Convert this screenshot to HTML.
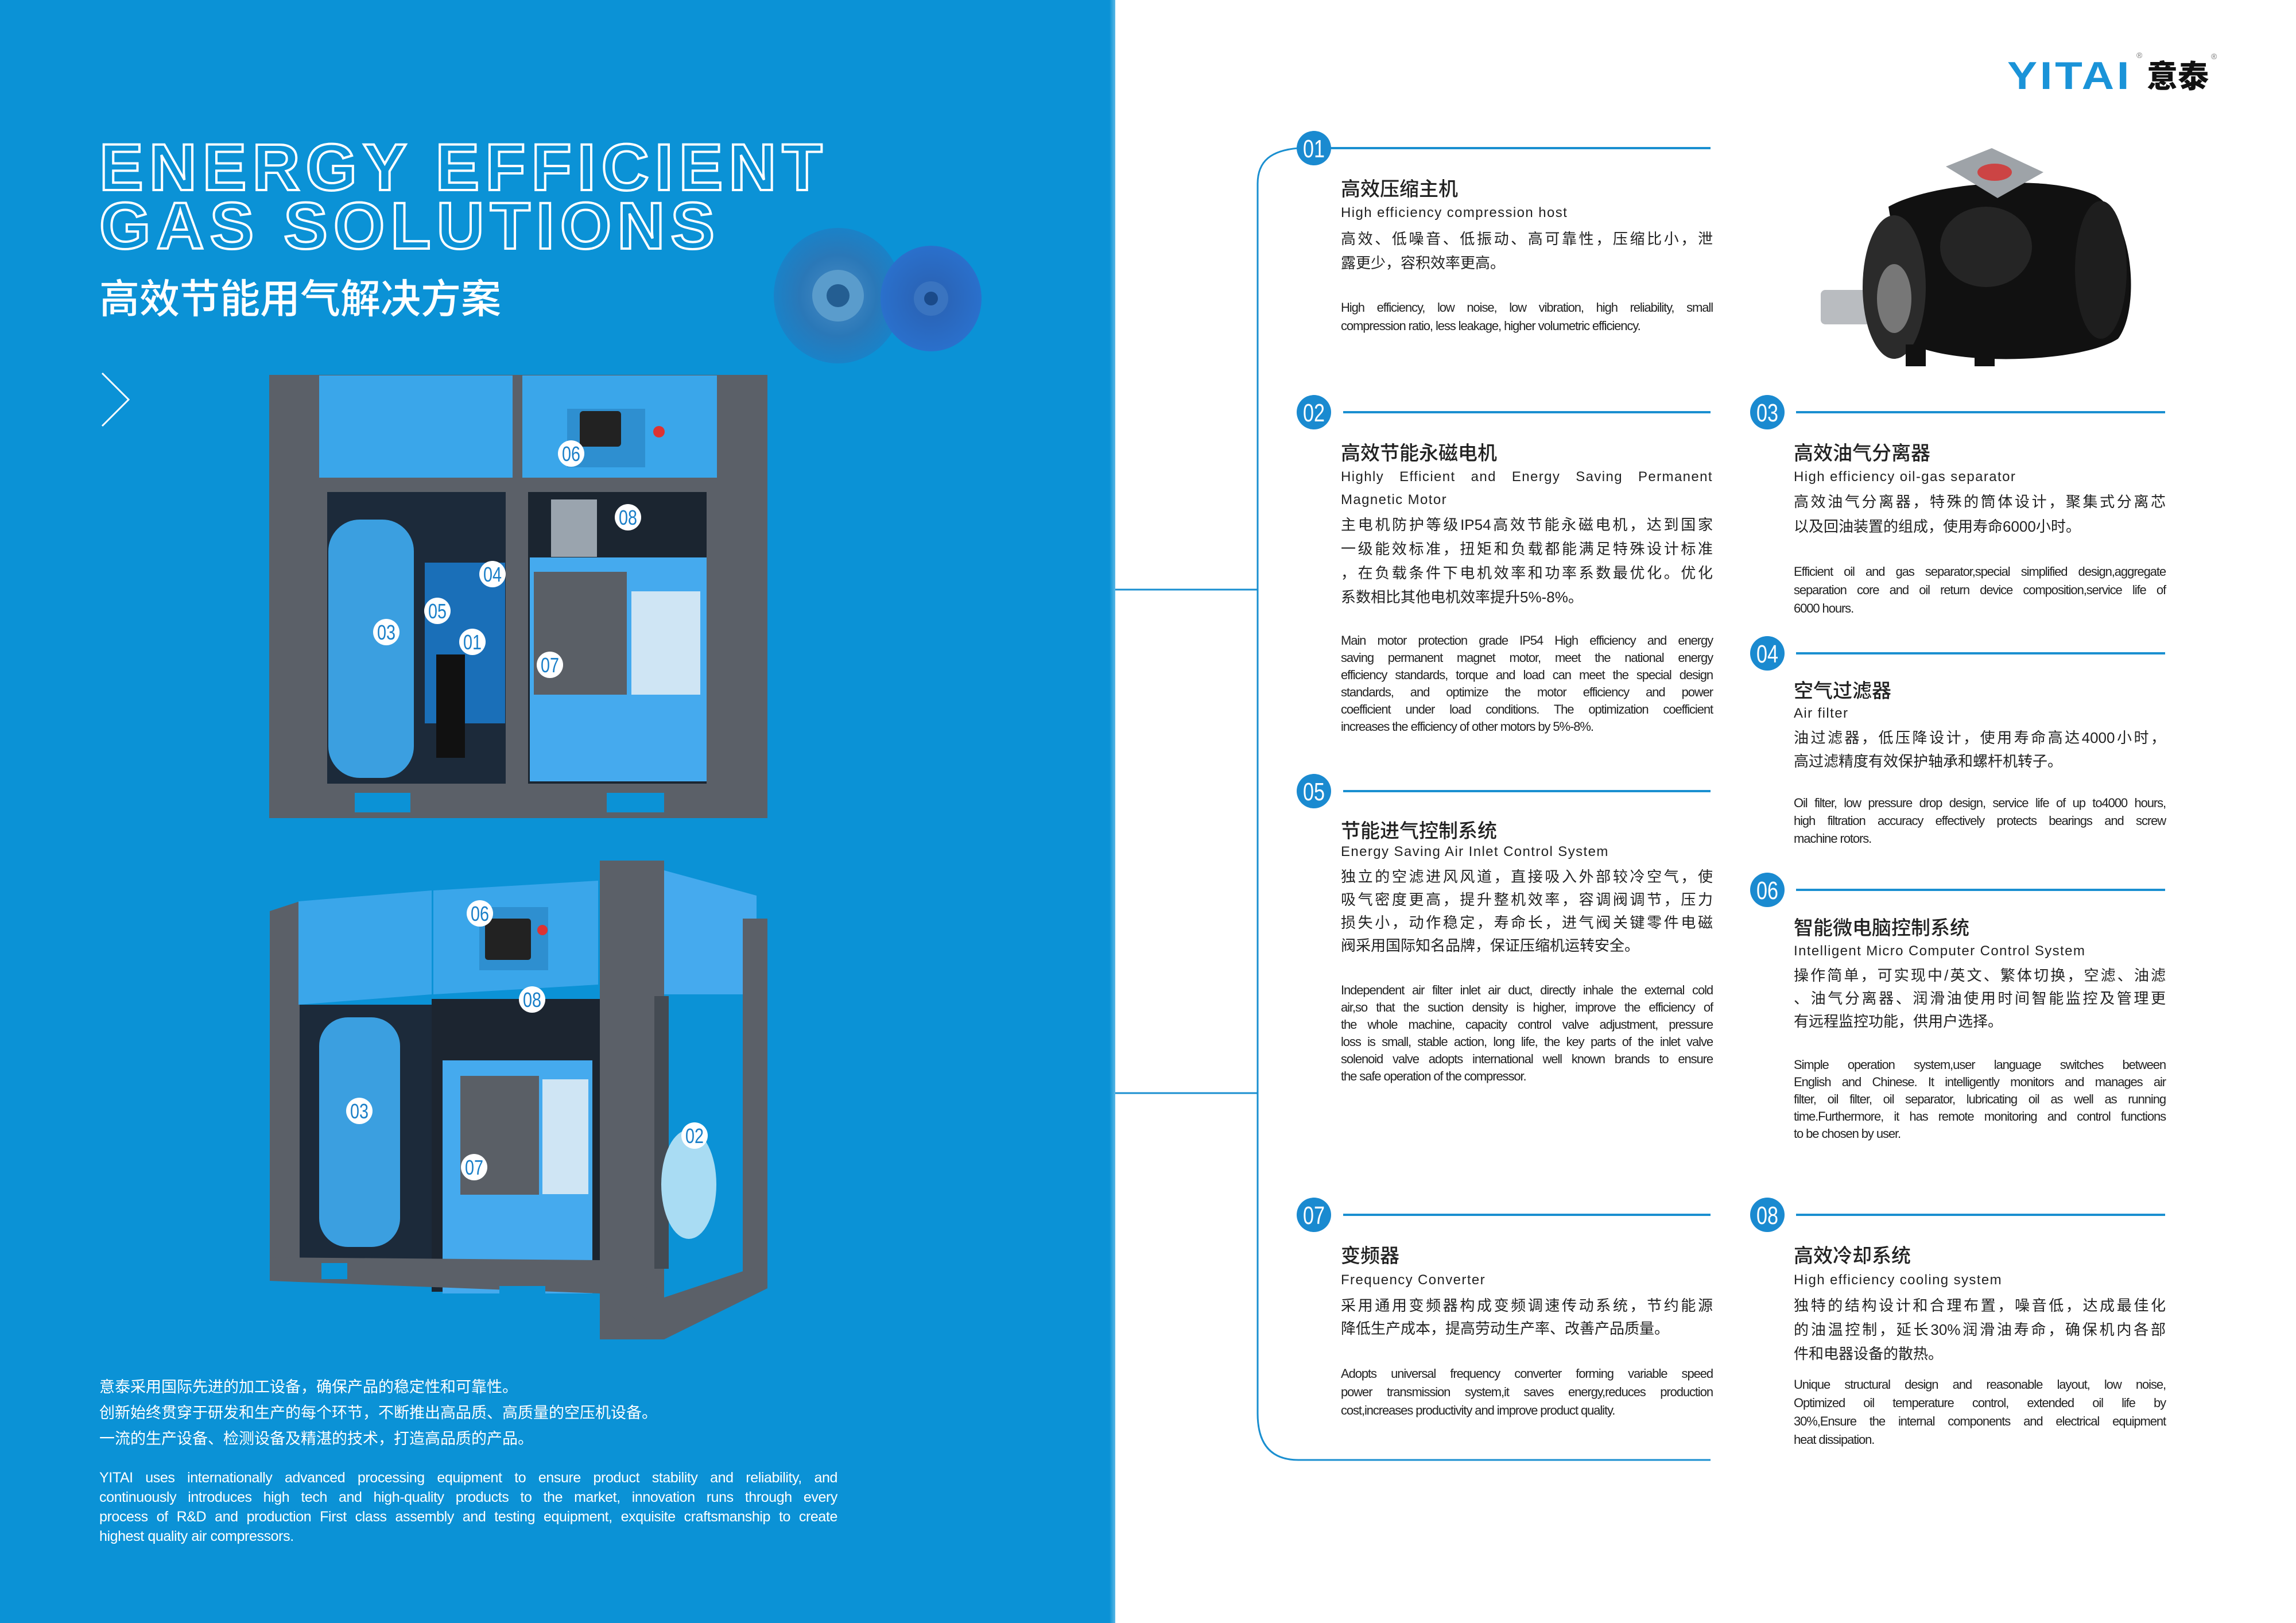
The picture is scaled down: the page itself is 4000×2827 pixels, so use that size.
<!DOCTYPE html>
<html><head><meta charset="utf-8">
<style>
*{margin:0;padding:0;box-sizing:border-box}
html,body{width:4000px;height:2827px;overflow:hidden;background:#fff}
body{position:relative;font-family:"Liberation Sans","Noto Sans CJK SC",sans-serif;color:#231f20}
.a{position:absolute}
.t1{font-family:"Liberation Sans",sans-serif;font-weight:bold;font-size:115px;line-height:115px;letter-spacing:10px;color:transparent;-webkit-text-stroke:4px #fff;white-space:nowrap}
.j>div{text-align:justify;text-align-last:justify;white-space:nowrap;overflow:visible}
.j>div.l{text-align:left;text-align-last:left}
.h{font-family:"Noto Sans CJK SC",sans-serif;font-size:34px;font-weight:500;line-height:40px;white-space:nowrap;color:#222}
.s{font-size:24px;letter-spacing:1.4px;line-height:40px;width:648px;color:#222}
.c{font-family:"Liberation Sans","Noto Sans CJK SC",sans-serif;font-size:26px;width:648px;color:#222}
.e{font-size:22px;letter-spacing:-1.1px;width:648px;color:#222}
.L{left:2336px}.R{left:3125px}
</style></head><body>

<div class="a" style="left:0;top:0;width:1943px;height:2827px;background:#0b92d6"></div>
<div class="a" style="left:1933px;top:0;width:10px;height:2827px;background:linear-gradient(90deg,#0b92d6,#5ab8e6)"></div>

<div class="a t1" style="left:173px;top:235px">ENERGY EFFICIENT</div>
<div class="a t1" style="left:173px;top:337px">GAS SOLUTIONS</div>
<div class="a" style="left:173px;top:480px;font-family:'Noto Sans CJK SC',sans-serif;font-size:70px;line-height:72px;color:#fff;font-weight:500;white-space:nowrap">高效节能用气解决方案</div>

<svg class="a" style="left:0;top:0" width="1943" height="2827" viewBox="0 0 1943 2827">
  <polyline points="178,650 224,696 178,742" fill="none" stroke="#fff" stroke-width="3"/>
  <defs>
    <radialGradient id="fg1" cx="50%" cy="50%" r="50%"><stop offset="0" stop-color="#4a8cc4"/><stop offset="0.6" stop-color="#2a78b8"/><stop offset="1" stop-color="#1a82c8"/></radialGradient>
    <radialGradient id="fg2" cx="50%" cy="50%" r="50%"><stop offset="0" stop-color="#2a60b0"/><stop offset="1" stop-color="#2a70cc"/></radialGradient>
  </defs>
  <ellipse cx="1460" cy="515" rx="112" ry="118" fill="url(#fg1)"/>
  <ellipse cx="1622" cy="520" rx="88" ry="92" fill="url(#fg2)"/>
  <circle cx="1460" cy="515" r="45" fill="#5a9ccc"/><circle cx="1460" cy="515" r="20" fill="#245e92"/>
  <circle cx="1622" cy="520" r="30" fill="#3a74c0"/><circle cx="1622" cy="520" r="12" fill="#1a4a8a"/>

  <!-- compressor 1 -->
  <rect x="469" y="653" width="868" height="772" fill="#5b6068"/>
  <rect x="556" y="654" width="337" height="178" fill="#3aa6ea"/>
  <rect x="910" y="654" width="339" height="178" fill="#3aa6ea"/>
  <rect x="988" y="712" width="136" height="102" fill="#2e8fd0"/>
  <rect x="1010" y="716" width="72" height="62" rx="6" fill="#222"/>
  <circle cx="1148" cy="752" r="10" fill="#d33"/>
  <rect x="570" y="857" width="311" height="508" fill="#1c2a3a"/>
  <rect x="920" y="857" width="311" height="508" fill="#1b2530"/>
  <rect x="740" y="980" width="140" height="280" fill="#1a6fb8"/>
  <rect x="572" y="905" width="149" height="450" rx="55" fill="#3b9fe0"/>
  <rect x="760" y="1140" width="50" height="180" fill="#111"/>
  <rect x="923" y="971" width="308" height="390" fill="#45aaee"/>
  <rect x="930" y="996" width="162" height="214" fill="#5a5f66"/>
  <rect x="1100" y="1030" width="120" height="180" fill="#cfe5f4"/>
  <rect x="960" y="870" width="80" height="100" fill="#9aa4ae"/>
  <rect x="469" y="1365" width="868" height="60" fill="#5b6068"/>
  <rect x="618" y="1381" width="97" height="34" fill="#0b92d6"/>
  <rect x="1057" y="1381" width="100" height="34" fill="#0b92d6"/>

  <!-- compressor 2 -->
  <polygon points="470,1587 522,1570 522,2231 470,2231" fill="#5b6068"/>
  <polygon points="520,1570 752,1551 752,1732 520,1750" fill="#3aa6ea"/>
  <polygon points="755,1551 1042,1534 1042,1715 755,1732" fill="#3aa6ea"/>
  <rect x="835" y="1580" width="120" height="110" fill="#2e8fd0"/>
  <rect x="845" y="1600" width="80" height="72" rx="5" fill="#222"/>
  <circle cx="945" cy="1620" r="9" fill="#d33"/>
  <polygon points="1157,1516 1318,1560 1318,1738 1157,1732" fill="#45aaee"/>
  <rect x="1045" y="1499" width="112" height="834" fill="#5b6068"/>
  <rect x="1294" y="1600" width="43" height="644" fill="#5b6068"/>
  <rect x="1157" y="1732" width="137" height="480" fill="#0b92d6"/>
  <rect x="1140" y="1735" width="25" height="475" fill="#444b53"/>
  <rect x="522" y="1750" width="230" height="445" fill="#1c2a3a"/>
  <rect x="752" y="1740" width="293" height="510" fill="#1c2530"/>
  <rect x="556" y="1772" width="141" height="400" rx="50" fill="#3b9fe0"/>
  <rect x="771" y="1847" width="261" height="406" fill="#45aaee"/>
  <rect x="802" y="1874" width="137" height="207" fill="#5a5f66"/>
  <rect x="945" y="1880" width="80" height="200" fill="#cfe5f4"/>
  <ellipse cx="1200" cy="2063" rx="48" ry="95" fill="#a9dcf3"/>
  <polygon points="470,2231 1045,2253 1157,2333 1337,2244 1337,2200 1157,2260 1045,2195 470,2190" fill="#5b6068"/>
  <rect x="560" y="2200" width="45" height="28" fill="#0b92d6"/>
  <rect x="870" y="2240" width="80" height="35" fill="#0b92d6"/>

  <g font-family="Liberation Sans,sans-serif" font-size="36" fill="#1a7fc8" text-anchor="middle">
    <g fill="#fff"><circle cx="995" cy="790" r="23"/><circle cx="1094" cy="901" r="23"/><circle cx="858" cy="1000" r="23"/><circle cx="762" cy="1064" r="23"/><circle cx="673" cy="1101" r="23"/><circle cx="823" cy="1118" r="23"/><circle cx="958" cy="1158" r="23"/>
    <circle cx="836" cy="1591" r="23"/><circle cx="927" cy="1741" r="23"/><circle cx="626" cy="1935" r="23"/><circle cx="1210" cy="1978" r="23"/><circle cx="826" cy="2033" r="23"/></g>
    <text x="995" y="803" textLength="32" lengthAdjust="spacingAndGlyphs">06</text>
    <text x="1094" y="914" textLength="32" lengthAdjust="spacingAndGlyphs">08</text>
    <text x="858" y="1013" textLength="32" lengthAdjust="spacingAndGlyphs">04</text>
    <text x="762" y="1077" textLength="32" lengthAdjust="spacingAndGlyphs">05</text>
    <text x="673" y="1114" textLength="32" lengthAdjust="spacingAndGlyphs">03</text>
    <text x="823" y="1131" textLength="32" lengthAdjust="spacingAndGlyphs">01</text>
    <text x="958" y="1171" textLength="32" lengthAdjust="spacingAndGlyphs">07</text>
    <text x="836" y="1604" textLength="32" lengthAdjust="spacingAndGlyphs">06</text>
    <text x="927" y="1754" textLength="32" lengthAdjust="spacingAndGlyphs">08</text>
    <text x="626" y="1948" textLength="32" lengthAdjust="spacingAndGlyphs">03</text>
    <text x="1210" y="1991" textLength="32" lengthAdjust="spacingAndGlyphs">02</text>
    <text x="826" y="2046" textLength="32" lengthAdjust="spacingAndGlyphs">07</text>
  </g>
</svg>

<div class="a j" style="left:173px;top:2391px;width:1000px;font-family:'Noto Sans CJK SC',sans-serif;font-size:27px;line-height:45px;color:#fff">
<div class="l">意泰采用国际先进的加工设备，确保产品的稳定性和可靠性。</div>
<div class="l">创新始终贯穿于研发和生产的每个环节，不断推出高品质、高质量的空压机设备。</div>
<div class="l">一流的生产设备、检测设备及精湛的技术，打造高品质的产品。</div>
</div>
<div class="a j" style="left:173px;top:2557px;width:1286px;font-size:25px;letter-spacing:-0.4px;line-height:34px;color:#fff">
<div>YITAI uses internationally advanced processing equipment to ensure product stability and reliability, and</div>
<div>continuously introduces high tech and high-quality products to the market, innovation runs through every</div>
<div>process of R&amp;D and production First class assembly and testing equipment, exquisite craftsmanship to create</div>
<div class="l">highest quality air compressors.</div>
</div>

<!-- logo -->
<div class="a" style="left:3497px;top:92px;font-family:'Liberation Sans',sans-serif;font-weight:bold;font-size:68px;line-height:80px;color:#1a93d8;letter-spacing:4px;transform:scaleX(1.15);transform-origin:left">YITAI</div>
<div class="a" style="left:3722px;top:88px;font-size:14px;color:#777">®</div>
<div class="a" style="left:3740px;top:94px;font-family:'Noto Sans CJK SC',sans-serif;font-weight:900;font-size:54px;line-height:70px;color:#111">意泰</div>
<div class="a" style="left:3852px;top:90px;font-size:14px;color:#777">®</div>

<svg class="a" style="left:0;top:0" width="4000" height="2827" viewBox="0 0 4000 2827">
  <g stroke="#1a8fd0" fill="none">
    <path d="M2262 258 C2215 262 2191 280 2191 320 L2191 2462 Q2191 2543 2262 2543 L2980 2543" stroke-width="3"/>
    <line x1="1943" y1="1027" x2="2191" y2="1027" stroke-width="3"/>
    <line x1="1943" y1="1904" x2="2191" y2="1904" stroke-width="3"/>
    <g stroke-width="4">
      <line x1="2318" y1="258" x2="2980" y2="258"/>
      <line x1="2340" y1="718" x2="2980" y2="718"/>
      <line x1="3129" y1="718" x2="3772" y2="718"/>
      <line x1="3129" y1="1138" x2="3772" y2="1138"/>
      <line x1="2340" y1="1378" x2="2980" y2="1378"/>
      <line x1="3129" y1="1550" x2="3772" y2="1550"/>
      <line x1="2340" y1="2116" x2="2980" y2="2116"/>
      <line x1="3129" y1="2116" x2="3772" y2="2116"/>
    </g>
  </g>
  <g fill="#1a8ad0">
    <circle cx="2289" cy="258" r="30"/><circle cx="2289" cy="718" r="30"/><circle cx="3079" cy="718" r="30"/>
    <circle cx="3079" cy="1138" r="30"/><circle cx="2289" cy="1378" r="30"/><circle cx="3079" cy="1550" r="30"/>
    <circle cx="2289" cy="2116" r="30"/><circle cx="3079" cy="2116" r="30"/>
  </g>
  <g font-family="Liberation Sans,sans-serif" font-size="44" fill="#fff" text-anchor="middle">
    <text x="2289" y="274" textLength="38" lengthAdjust="spacingAndGlyphs">01</text>
    <text x="2289" y="734" textLength="38" lengthAdjust="spacingAndGlyphs">02</text>
    <text x="3079" y="734" textLength="38" lengthAdjust="spacingAndGlyphs">03</text>
    <text x="3079" y="1154" textLength="38" lengthAdjust="spacingAndGlyphs">04</text>
    <text x="2289" y="1394" textLength="38" lengthAdjust="spacingAndGlyphs">05</text>
    <text x="3079" y="1566" textLength="38" lengthAdjust="spacingAndGlyphs">06</text>
    <text x="2289" y="2132" textLength="38" lengthAdjust="spacingAndGlyphs">07</text>
    <text x="3079" y="2132" textLength="38" lengthAdjust="spacingAndGlyphs">08</text>
  </g>
  <!-- motor (3170-3728, 258-638) -->
  <g>
    <rect x="3172" y="505" width="100" height="60" rx="8" fill="#b9bcc0"/>
    <path d="M3290 360 C3360 320 3560 300 3650 340 C3720 380 3728 540 3690 590 C3630 630 3420 640 3330 600 Z" fill="#111"/>
    <ellipse cx="3300" cy="500" rx="55" ry="125" fill="#2b2b2b"/>
    <ellipse cx="3300" cy="520" rx="30" ry="60" fill="#777"/>
    <ellipse cx="3660" cy="470" rx="45" ry="120" fill="#1e1e1e"/>
    <ellipse cx="3460" cy="430" rx="80" ry="70" fill="#333" opacity="0.6"/>
    <polygon points="3390,290 3470,258 3560,300 3480,345" fill="#9ea3a8"/>
    <ellipse cx="3475" cy="300" rx="30" ry="15" fill="#c44"/>
    <rect x="3320" y="600" width="35" height="38" fill="#111"/><rect x="3440" y="605" width="35" height="33" fill="#111"/>
  </g>
</svg>

<!-- 01 -->
<div class="a h L" style="top:307px">高效压缩主机</div>
<div class="a s L" style="top:351px">High efficiency compression host</div>
<div class="a j c L" style="top:395px;line-height:42px"><div>高效、低噪音、低振动、高可靠性，压缩比小，泄</div><div class="l">露更少，容积效率更高。</div></div>
<div class="a j e L" style="top:520px;line-height:32px"><div>High efficiency, low noise, low vibration, high reliability, small</div><div class="l">compression ratio, less leakage, higher volumetric efficiency.</div></div>

<!-- 02 -->
<div class="a h L" style="top:767px">高效节能永磁电机</div>
<div class="a j s L" style="top:811px"><div>Highly Efficient and Energy Saving Permanent</div><div class="l">Magnetic Motor</div></div>
<div class="a j c L" style="top:893px;line-height:42px"><div>主电机防护等级IP54高效节能永磁电机，达到国家</div><div>一级能效标准，扭矩和负载都能满足特殊设计标准</div><div>，在负载条件下电机效率和功率系数最优化。优化</div><div class="l">系数相比其他电机效率提升5%-8%。</div></div>
<div class="a j e L" style="top:1101px;line-height:30px"><div>Main motor protection grade IP54 High efficiency and energy</div><div>saving permanent magnet motor, meet the national energy</div><div>efficiency standards, torque and load can meet the special design</div><div>standards, and optimize the motor efficiency and power</div><div>coefficient under load conditions. The optimization coefficient</div><div class="l">increases the efficiency of other motors by 5%-8%.</div></div>

<!-- 03 -->
<div class="a h R" style="top:767px">高效油气分离器</div>
<div class="a s R" style="top:811px">High efficiency oil-gas separator</div>
<div class="a j c R" style="top:853px;line-height:43px"><div>高效油气分离器，特殊的筒体设计，聚集式分离芯</div><div class="l">以及回油装置的组成，使用寿命6000小时。</div></div>
<div class="a j e R" style="top:980px;line-height:32px"><div>Efficient oil and gas separator,special simplified design,aggregate</div><div>separation core and oil return device composition,service life of</div><div class="l">6000 hours.</div></div>

<!-- 04 -->
<div class="a h R" style="top:1181px">空气过滤器</div>
<div class="a s R" style="top:1223px">Air filter</div>
<div class="a j c R" style="top:1265px;line-height:41px"><div>油过滤器，低压降设计，使用寿命高达4000小时，</div><div class="l">高过滤精度有效保护轴承和螺杆机转子。</div></div>
<div class="a j e R" style="top:1383px;line-height:31px"><div>Oil filter, low pressure drop design, service life of up to4000 hours,</div><div>high filtration accuracy effectively protects bearings and screw</div><div class="l">machine rotors.</div></div>

<!-- 05 -->
<div class="a h L" style="top:1425px">节能进气控制系统</div>
<div class="a s L" style="top:1464px">Energy Saving Air Inlet Control System</div>
<div class="a j c L" style="top:1507px;line-height:40px"><div>独立的空滤进风风道，直接吸入外部较冷空气，使</div><div>吸气密度更高，提升整机效率，容调阀调节，压力</div><div>损失小，动作稳定，寿命长，进气阀关键零件电磁</div><div class="l">阀采用国际知名品牌，保证压缩机运转安全。</div></div>
<div class="a j e L" style="top:1710px;line-height:30px"><div>Independent air filter inlet air duct, directly inhale the external cold</div><div>air,so that the suction density is higher, improve the efficiency of</div><div>the whole machine, capacity control valve adjustment, pressure</div><div>loss is small, stable action, long life, the key parts of the inlet valve</div><div>solenoid valve adopts international well known brands to ensure</div><div class="l">the safe operation of the compressor.</div></div>

<!-- 06 -->
<div class="a h R" style="top:1594px">智能微电脑控制系统</div>
<div class="a s R" style="top:1637px">Intelligent Micro Computer Control System</div>
<div class="a j c R" style="top:1679px;line-height:40px"><div>操作简单，可实现中/英文、繁体切换，空滤、油滤</div><div>、油气分离器、润滑油使用时间智能监控及管理更</div><div class="l">有远程监控功能，供用户选择。</div></div>
<div class="a j e R" style="top:1840px;line-height:30px"><div>Simple operation system,user language switches between</div><div>English and Chinese. It intelligently monitors and manages air</div><div>filter, oil filter, oil separator, lubricating oil as well as running</div><div>time.Furthermore, it has remote monitoring and control functions</div><div class="l">to be chosen by user.</div></div>

<!-- 07 -->
<div class="a h L" style="top:2165px">变频器</div>
<div class="a s L" style="top:2210px">Frequency Converter</div>
<div class="a j c L" style="top:2254px;line-height:40px"><div>采用通用变频器构成变频调速传动系统，节约能源</div><div class="l">降低生产成本，提高劳动生产率、改善产品质量。</div></div>
<div class="a j e L" style="top:2377px;line-height:32px"><div>Adopts universal frequency converter forming variable speed</div><div>power transmission system,it saves energy,reduces production</div><div class="l">cost,increases productivity and improve product quality.</div></div>

<!-- 08 -->
<div class="a h R" style="top:2165px">高效冷却系统</div>
<div class="a s R" style="top:2210px">High efficiency cooling system</div>
<div class="a j c R" style="top:2253px;line-height:42px"><div>独特的结构设计和合理布置，噪音低，达成最佳化</div><div>的油温控制，延长30%润滑油寿命，确保机内各部</div><div class="l">件和电器设备的散热。</div></div>
<div class="a j e R" style="top:2396px;line-height:32px"><div>Unique structural design and reasonable layout, low noise,</div><div>Optimized oil temperature control, extended oil life by</div><div>30%,Ensure the internal components and electrical equipment</div><div class="l">heat dissipation.</div></div>

</body></html>
